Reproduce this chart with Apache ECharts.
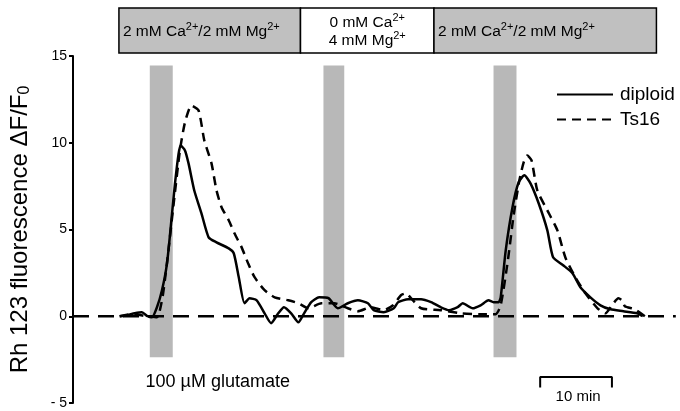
<!DOCTYPE html>
<html>
<head>
<meta charset="utf-8">
<script src="https://cdn.jsdelivr.net/npm/echarts@6/dist/echarts.min.js"></script>
<style>
  html, body { margin: 0; padding: 0; background: #fff; }
  #main { width: 680px; height: 411px; }
</style>
</head>
<body>
<div id="main"></div>
<script>
// time in minutes, values in dF/F0
const diploid = [
  [6.5, 0], [7.5, 0.06], [8.6, 0.17], [9.6, 0.23], [10.4, 0], [11.0, -0.06], [11.7, 0.52],
  [12.4, 1.5], [13.1, 3.05], [13.75, 5.7], [14.2, 7.6], [14.7, 9.33], [15.0, 9.84],
  [15.6, 9.56], [16.1, 8.81], [16.9, 7.25], [17.9, 5.93], [18.9, 4.55], [20.0, 4.26],
  [21.7, 3.91], [22.4, 3.63], [23.1, 2.25], [23.9, 0.75], [24.6, 1.04], [25.6, 0.92],
  [26.7, 0.17], [27.6, -0.4], [28.6, 0.17], [29.4, 0.52], [30.4, 0.17], [31.4, -0.35],
  [32.2, 0.17], [33.2, 0.81], [34.3, 1.09], [35.6, 1.04], [36.9, 0.46], [38.3, 0.75],
  [39.7, 0.92], [41.1, 0.75], [41.9, 0.35], [43.3, 0.23], [44.7, 0.46], [45.3, 0.81],
  [46.7, 0.98], [48.5, 0.98], [49.9, 0.81], [51.25, 0.52], [52.4, 0.35], [53.6, 0.52],
  [54.3, 0.75], [55.7, 0.46], [56.8, 0.63], [57.9, 0.92], [58.6, 0.81], [59.3, 0.81],
  [59.6, 1.09], [60.3, 3.8], [61.25, 6.3], [62.1, 7.72], [62.9, 8.12], [63.75, 7.66],
  [64.9, 6.5], [66.1, 4.95], [66.9, 3.4], [68.3, 2.94], [69.6, 2.48], [70.7, 1.67],
  [72.1, 1.09], [73.5, 0.63], [74.9, 0.4], [76.7, 0.29], [78.6, 0.17], [79.4, 0]
];
const ts16 = [
  [6.5, 0], [8.2, 0.12], [10.3, 0], [11.7, -0.06], [12.4, 0.92], [12.8, 2.07], [13.3, 3.8],
  [14.0, 6.39], [14.9, 9.56], [15.6, 11.17], [16.5, 12.15], [17.5, 11.86], [18.3, 10.13],
  [19.3, 8.81], [20.0, 7.25], [20.7, 6.28], [21.7, 5.53], [22.5, 4.78], [23.5, 3.97],
  [24.4, 3.05], [25.3, 2.25], [26.7, 1.5], [28.1, 1.09], [30.0, 0.92], [31.4, 0.75],
  [32.8, 0.46], [34.6, 0.75], [36.4, 0.75], [38.3, 0.46], [39.7, 0.29], [41.5, 0.52],
  [43.3, 0.35], [44.6, 0.63], [45.7, 1.21], [46.4, 1.32], [47.1, 1.04], [48.5, 0.46],
  [51.25, 0.35], [54.0, 0.17], [56.8, 0.12], [58.9, 0.12], [59.6, 0.63], [60.6, 3.22],
  [61.4, 5.82], [62.2, 7.83], [62.8, 8.87], [63.3, 9.27], [63.9, 8.98], [64.7, 7.25],
  [66.1, 6.1], [67.5, 4.95], [68.6, 3.4], [70.0, 2.25], [71.4, 1.32], [73.1, 0.46],
  [74.2, 0.17], [75.1, 0.63], [76.0, 1.04], [76.5, 0.92], [76.9, 0.58], [78.3, 0.4], [79.7, 0]
];
const baseline = [[0, 0], [84, 0]];

// glutamate application bands (min)
const bandStart = [10.7, 34.9, 58.6];
const bandEnd = [13.9, 37.8, 61.8];
const bandTop = 14.45, bandBottom = -2.36;

// solution bar segments (min)
const segStart = [6.4, 31.7, 50.3];
const segEnd = [31.7, 50.3, 81.3];

// 10 min scale bar
const scaleBar = [[65.1, -4.1], [65.1, -3.5], [75.1, -3.5], [75.1, -4.1]];

const yTicks = [-5, 0, 5, 10, 15];

const chart = echarts.init(document.getElementById('main'));
const font = 'Liberation Sans, Arial, sans-serif';

const option = {
  animation: false,
  textStyle: { fontFamily: font },
  grid: { left: 71, top: 56, width: 604.8, height: 347, containLabel: false },
  xAxis: {
    type: 'value', min: 0, max: 84,
    show: false
  },
  yAxis: {
    type: 'value', min: yTicks[0], max: yTicks[yTicks.length - 1], interval: 5,
    axisLine: { show: true, lineStyle: { color: '#000', width: 2 } },
    axisTick: { show: true, length: 4, lineStyle: { color: '#000', width: 2 } },
    axisLabel: {
      color: '#000', fontSize: 14, margin: 6,
      formatter: v => v < 0 ? '- ' + Math.abs(v) : String(v)
    },
    splitLine: { show: false },
    name: 'Rh 123 fluorescence \u0394F/F{sub|0}',
    nameLocation: 'middle',
    nameGap: 40,
    nameTextStyle: {
      color: '#000', fontSize: 24, fontFamily: font,
      rich: { sub: { fontSize: 16, verticalAlign: 'bottom', padding: [10, 0, 0, 0] } }
    }
  },
  legend: {
    orient: 'vertical', left: 551, top: 80,
    itemWidth: 56, itemHeight: 16, itemGap: 6,
    data: ['diploid', 'Ts16'],
    itemStyle: { opacity: 0 },
    textStyle: { color: '#000', fontSize: 19, fontFamily: font, padding: [0, 0, 0, 2] }
  },
  series: [
    {
      name: 'bands', type: 'line', data: [], silent: true,
      markArea: {
        silent: true,
        itemStyle: { color: '#b8b8b8' },
        data: bandStart.map((s, i) => [
          { xAxis: s, yAxis: bandTop }, { xAxis: bandEnd[i], yAxis: bandBottom }
        ])
      }
    },
    {
      name: 'zero', type: 'line', data: baseline, symbol: 'none', silent: true, z: 1,
      lineStyle: { color: '#000', width: 2.5, type: [16, 9] }
    },
    {
      name: 'diploid', type: 'line', data: diploid, symbol: 'none', smooth: 0.2,
      color: '#000', lineStyle: { color: '#000', width: 2.5 }, z: 3
    },
    {
      name: 'Ts16', type: 'line', data: ts16, symbol: 'none', smooth: 0.2,
      color: '#000', lineStyle: { color: '#000', width: 2.5, type: [9, 6] }, z: 3
    },
    {
      name: 'scale', type: 'line', data: scaleBar, symbol: 'none', silent: true,
      lineStyle: { color: '#000', width: 2 }
    }
  ]
};
chart.setOption(option);

// header bar with solution conditions and text annotations
const px = (t, v) => chart.convertToPixel({ gridIndex: 0 }, [t, v]);
const supRich = {
  a: { fontSize: 15.5, fontFamily: font, color: '#000', lineHeight: 18, verticalAlign: 'bottom' },
  s: { fontSize: 11, fontFamily: font, color: '#000', lineHeight: 18, verticalAlign: 'top' }
};
const barTop = 8, barBottom = 53;
const segFill = ['#c0c0c0', '#ffffff', '#c0c0c0'];
const segText = [
  '{a|2 mM Ca}{s|2+}{a|/2 mM Mg}{s|2+}',
  '{a|0 mM Ca}{s|2+}\n{a|4 mM Mg}{s|2+}',
  '{a|2 mM Ca}{s|2+}{a|/2 mM Mg}{s|2+}'
];
const graphics = [];
segStart.forEach((s, i) => {
  const x0 = px(s, 0)[0], x1 = px(segEnd[i], 0)[0];
  graphics.push({
    type: 'rect', shape: { x: x0, y: barTop, width: x1 - x0, height: barBottom - barTop },
    style: { fill: segFill[i], stroke: '#000', lineWidth: 1.5 }
  });
  const centered = i === 1;
  graphics.push({
    type: 'text',
    x: centered ? (x0 + x1) / 2 : x0 + 4,
    y: (barTop + barBottom) / 2,
    style: {
      text: segText[i], rich: supRich,
      align: centered ? 'center' : 'left', verticalAlign: 'middle'
    }
  });
});
const g = px(bandStart[0] - 0.6, -3.8);
graphics.push({
  type: 'text', x: g[0], y: g[1],
  style: { text: '100 \u00b5M glutamate', fontSize: 18, fontFamily: font, fill: '#000', verticalAlign: 'middle' }
});
const sb = px((scaleBar[1][0] + scaleBar[2][0]) / 2, -4.65);
graphics.push({
  type: 'text', x: sb[0] + 2, y: sb[1],
  style: { text: '10 min', fontSize: 15, fontFamily: font, fill: '#000', align: 'center', verticalAlign: 'middle' }
});
chart.setOption({ graphic: graphics });
</script>
</body>
</html>
